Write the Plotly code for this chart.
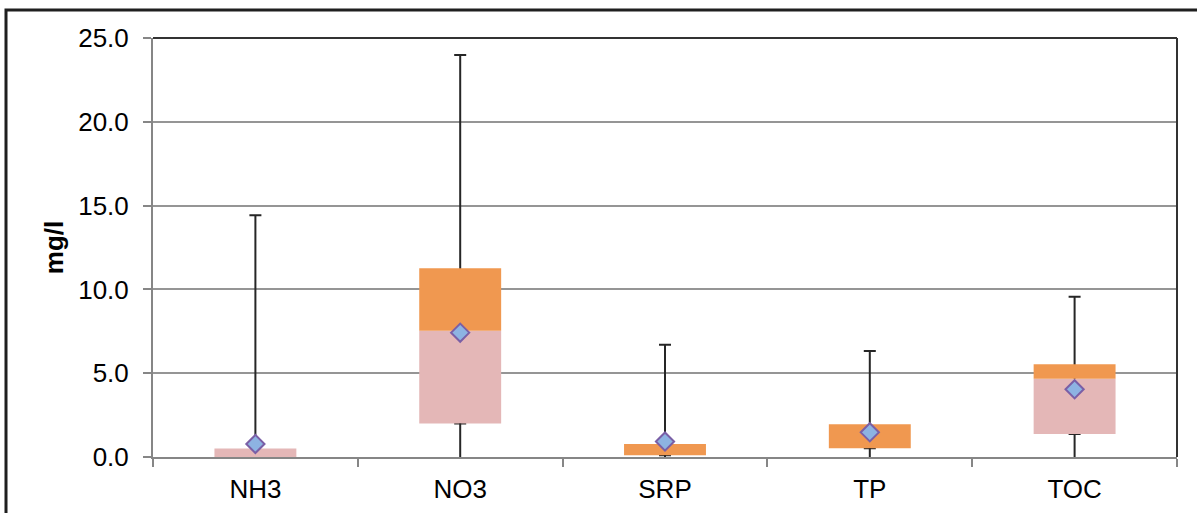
import plotly.graph_objects as go

categories = ["NH3", "NO3", "SRP", "TP", "TOC"]
minimum = [0.0, 0.0, 0.0, 0.0, 0.0]
q1 = [0.0, 2.0, 0.1, 0.52, 1.37]
median = [0.5, 7.54, 0.1, 0.52, 4.67]
q3 = [0.5, 11.26, 0.78, 1.95, 5.53]
maximum = [14.42, 23.98, 6.70, 6.32, 9.56]
mean = [0.78, 7.42, 0.92, 1.47, 4.04]
y_ticks = [0, 5, 10, 15, 20, 25]

FONT = "Liberation Sans, Arial, sans-serif"
PINK = "#E4B7B7"
ORANGE = "#F09850"

lower_box = [m - a for m, a in zip(median, q1)]
upper_box = [b - m for b, m in zip(q3, median)]
err_up = [mx - a for mx, a in zip(maximum, q1)]
zeros = [0.0] * len(categories)

# lower whisker segments (min -> Q1), built from the data arrays
lw_x, lw_y = [], []
for c, mn, a in zip(categories, minimum, q1):
    lw_x += [c, c, None]
    lw_y += [mn, a, None]

fig = go.Figure()

# invisible base bar carrying the upper whiskers (drawn first so boxes cover them)
fig.add_trace(go.Bar(
    x=categories, y=q1, width=0.4,
    marker=dict(color="rgba(0,0,0,0)", line=dict(width=0)),
    error_y=dict(type="data", symmetric=False, array=err_up, arrayminus=zeros,
                 color="#262626", thickness=2, width=6),
    hoverinfo="skip", showlegend=False,
))
fig.add_trace(go.Scatter(
    x=lw_x, y=lw_y, mode="lines",
    line=dict(color="#262626", width=2),
    hoverinfo="skip", showlegend=False,
))
fig.add_trace(go.Bar(
    x=categories, y=lower_box, base=q1, width=0.4,
    marker=dict(color=PINK, line=dict(width=0)),
    showlegend=False,
))
fig.add_trace(go.Bar(
    x=categories, y=upper_box, base=median, width=0.4,
    marker=dict(color=ORANGE, line=dict(width=0)),
    showlegend=False,
))
fig.add_trace(go.Scatter(
    x=categories, y=mean, mode="markers",
    marker=dict(symbol="diamond", size=14, color="#8DB3E2",
                line=dict(color="#7A5FA6", width=2)),
    showlegend=False,
))

W, H = 1197, 513
L, R, T, B = 153, 20, 38, 56
pw, ph = W - L - R, H - T - B

fig.update_layout(
    width=W, height=H,
    margin=dict(l=L, r=R, t=T, b=B, autoexpand=False),
    barmode="overlay",
    paper_bgcolor="white", plot_bgcolor="white",
    font=dict(family=FONT, size=26, color="black"),
    xaxis=dict(
        type="category", tickson="boundaries", automargin=False,
        ticks="outside", ticklen=8, tickcolor="#868686", tickwidth=2,
        showline=True, linecolor="#868686", linewidth=2,
        showgrid=False, ticklabelstandoff=8,
        tickfont=dict(family=FONT, size=26, color="black"),
    ),
    yaxis=dict(
        range=[0, 25], tickvals=y_ticks, tickformat=".1f", automargin=False,
        ticks="outside", ticklen=8, tickcolor="#868686", tickwidth=2,
        showline=True, linecolor="#868686", linewidth=2,
        showgrid=True, gridcolor="#959595", gridwidth=1.5,
        zeroline=False, ticklabelstandoff=9,
        tickfont=dict(family=FONT, size=26, color="black"),
        title=dict(text="<b>mg/l</b>", standoff=7,
                   font=dict(family=FONT, size=26, color="black")),
    ),
    shapes=[
        dict(type="line", xref="paper", yref="paper", x0=0, x1=1, y0=1, y1=1,
             line=dict(color="#333333", width=2), layer="above"),
        dict(type="line", xref="paper", yref="paper", x0=1, x1=1, y0=0, y1=1,
             line=dict(color="#333333", width=2), layer="above"),
        dict(type="rect", xref="paper", yref="paper",
             x0=(6 - L) / pw, x1=(W + 20 - L) / pw,
             y0=-(H + 20 - (T + ph)) / ph, y1=(T + ph - 10) / ph,
             line=dict(color="#1f1f1f", width=3), layer="above"),
    ],
)

fig.write_html("out.html")
